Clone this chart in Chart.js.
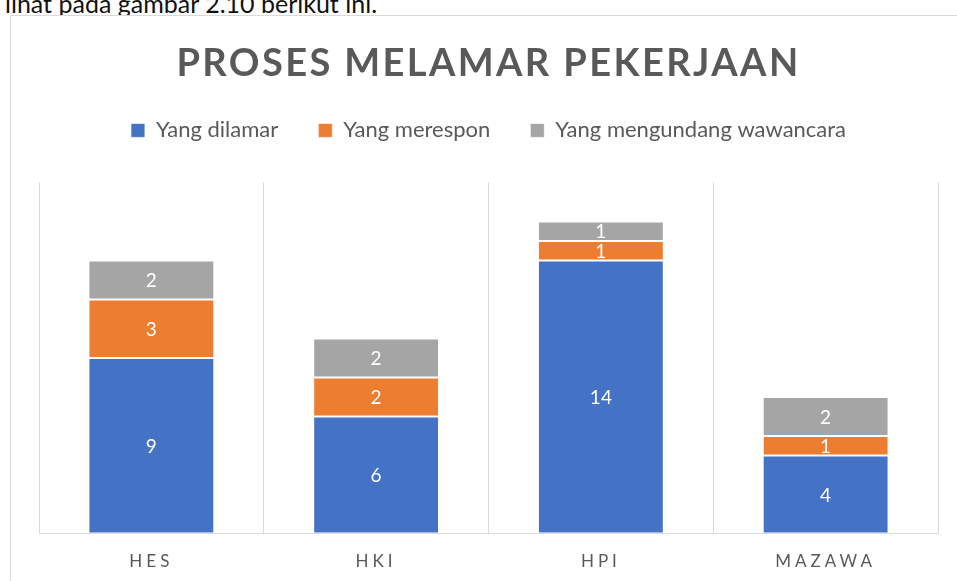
<!DOCTYPE html>
<html>
<head>
<meta charset="utf-8">
<script src="https://cdn.jsdelivr.net/npm/chart.js@4/dist/chart.umd.min.js"></script>
<style>
  html, body { margin: 0; padding: 0; background: #ffffff; overflow: hidden; width: 957px; height: 581px; }
  #intro { position: absolute; left: 5px; top: -12px; font-family: Lato, sans-serif; font-size: 25px; color: #111; white-space: nowrap; }
  #frame { position: absolute; left: 10px; top: 15px; width: 959px; height: 600px; border: 1px solid #d9d9d9; box-sizing: border-box; background: #fff; }
  #frame canvas { display: block; }
</style>
</head>
<body>
<div id="intro">lihat pada gambar 2.10 berikut ini.</div>
<div id="frame"><canvas id="c" width="957" height="598"></canvas></div>
<script>
const chartTitle = 'PROSES MELAMAR PEKERJAAN';
const categories = ['HES', 'HKI', 'HPI', 'MAZAWA'];
const seriesNames = ['Yang dilamar', 'Yang merespon', 'Yang mengundang wawancara'];
const dilamar = [9, 6, 14, 4];
const merespon = [3, 2, 1, 1];
const wawancara = [2, 2, 1, 2];
const seriesColors = ['#4472C4', '#ED7D31', '#A5A5A5'];

const textGray = '#595959';

const spacingPlugin = {
  id: 'spacing',
  beforeLayout(chart) {
    const lg = chart.legend;
    if (lg && !lg._extra) {
      const origFit = lg.fit.bind(lg);
      lg.fit = function () {
        origFit();
        this.height += 31;
      };
      lg._extra = true;
    }
  },
  beforeDraw(chart) {
    const x = chart.scales.x;
    if (x && !x._spaced) {
      const orig = x.drawLabels.bind(x);
      x.drawLabels = function (area) {
        const ctx = this.ctx;
        ctx.save();
        ctx.letterSpacing = '4px';
        orig(area);
        ctx.restore();
      };
      x._spaced = true;
    }
    const t = chart.titleBlock;
    if (t && !t._spaced) {
      const origT = t.draw.bind(t);
      t.draw = function () {
        const ctx = this.ctx;
        ctx.save();
        ctx.letterSpacing = '2.4px';
        origT();
        ctx.restore();
      };
      t._spaced = true;
    }
  }
};

const valueLabels = {
  id: 'valueLabels',
  afterDatasetsDraw(chart) {
    const ctx = chart.ctx;
    ctx.save();
    ctx.font = '19px Lato, sans-serif';
    ctx.fillStyle = '#ffffff';
    ctx.textAlign = 'center';
    ctx.textBaseline = 'middle';
    chart.data.datasets.forEach((ds, i) => {
      const meta = chart.getDatasetMeta(i);
      meta.data.forEach((el, j) => {
        const p = el.getProps(['x', 'y', 'base'], true);
        ctx.fillText(String(ds.data[j]), p.x, (p.y + p.base) / 2 + 1);
      });
    });
    ctx.restore();
  }
};

new Chart(document.getElementById('c'), {
  type: 'bar',
  data: {
    labels: categories,
    datasets: [
      { label: seriesNames[0], data: dilamar, backgroundColor: seriesColors[0] },
      { label: seriesNames[1], data: merespon, backgroundColor: seriesColors[1] },
      { label: seriesNames[2], data: wawancara, backgroundColor: seriesColors[2] }
    ].map(d => Object.assign(d, {
      borderColor: 'rgba(255,255,255,0.7)',
      borderWidth: 1,
      borderSkipped: false,
      categoryPercentage: 1,
      barPercentage: 0.56
    }))
  },
  options: {
    responsive: false,
    animation: false,
    layout: { padding: { left: 28, right: 30, top: 0, bottom: 24 } },
    plugins: {
      title: {
        display: true,
        text: chartTitle,
        color: textGray,
        font: { family: 'Lato, sans-serif', size: 38, weight: 'bold', lineHeight: 0.8 },
        padding: { top: 33, bottom: 0 }
      },
      legend: {
        display: true,
        position: 'top',
        labels: {
          color: textGray,
          font: { family: 'Lato, sans-serif', size: 22 },
          boxWidth: 14,
          boxHeight: 14,
          padding: 40
        }
      },
      tooltip: { enabled: false }
    },
    scales: {
      x: {
        stacked: true,
        grid: { display: true, color: '#d9d9d9', lineWidth: 1, drawTicks: false, offset: true },
        border: { display: true, color: '#d9d9d9', width: 1 },
        ticks: { color: textGray, font: { family: 'Lato, sans-serif', size: 17 }, padding: 18 }
      },
      y: {
        stacked: true,
        display: false,
        min: 0,
        max: 18
      }
    }
  },
  plugins: [spacingPlugin, valueLabels]
});
</script>
</body>
</html>
